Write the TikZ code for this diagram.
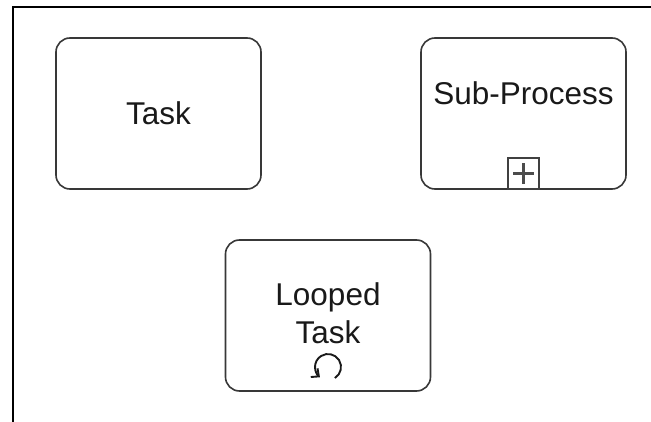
\documentclass[tikz,border=0pt]{standalone}
\usepackage{fontspec}
\setmainfont{Liberation Sans}
\usetikzlibrary{arrows.meta}
\begin{document}
\begin{tikzpicture}[x=1pt,y=-1pt,
  activity/.style={draw=black!78, line width=1.6pt, rounded corners=14pt,
    minimum width=205pt, minimum height=151pt, inner sep=0pt, fill=white},
  label/.style={text=black!90, inner sep=0pt, align=center,
    font=\fontsize{31.5}{38}\selectfont},
  marker/.style={draw=black!75, line width=1.6pt},
  plusline/.style={draw=black!70, line width=2.2pt}]
\useasboundingbox (0,0) rectangle (651,422);
\fill[white] (0,0) rectangle (651,422);
\draw[line width=2pt] (651,7) -- (13,7) -- (13,423);

\node[activity] (task) at (158.5,113.5) {};
\node[label] (tasktext) at (158.5,113.5) {Task};

\node[activity] (sub) at (523.5,113.5) {};
\node[label, anchor=base] (subtext) at (523.5,105) {Sub-Process};
\node[marker, minimum width=31pt, minimum height=31pt, inner sep=0pt,
      anchor=south] (plusbox) at (sub.south) {};
\draw[plusline] ([xshift=-10.5pt]plusbox.center) -- ([xshift=10.5pt]plusbox.center);
\draw[plusline] ([yshift=-10.5pt]plusbox.center) -- ([yshift=10.5pt]plusbox.center);

\node[activity] (loop) at (328,315.5) {};
\node[label, anchor=base] (looptext) at (328,343) {Looped\\Task};
\coordinate (loopc) at (328,367);
\draw[line width=1.9pt, black!90, -{Straight Barb[length=6pt,width=11pt]}]
  ([shift={(-58:13pt)}]loopc) arc[start angle=-58, end angle=232, radius=13pt];
\end{tikzpicture}
\end{document}
